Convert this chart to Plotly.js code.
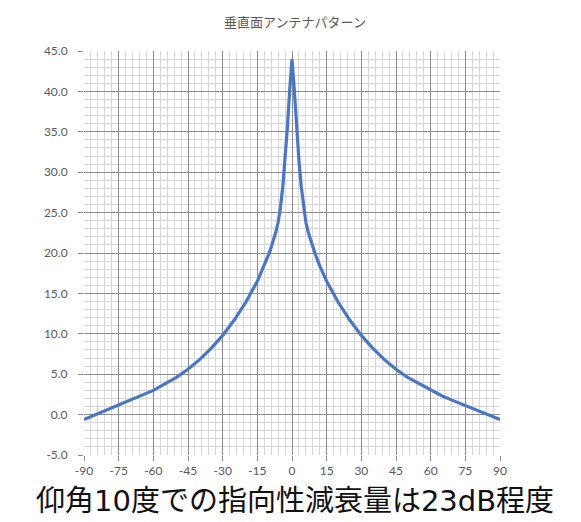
<!DOCTYPE html>
<html>
<head>
<meta charset="utf-8">
<script src="https://cdn.plot.ly/plotly-3.0.1.min.js"></script>
<style>html,body{margin:0;padding:0;background:#fff;}#chart{width:581px;height:522px;}</style>
</head>
<body>
<div id="chart"></div>
<script>
// Elevation angle (deg) and relative gain (dB)
const angles = [-90,-85,-80,-75,-70,-65,-60,-55,-50,-45,-40,-35,-30,-25,-20,-15,-12,-10,-9,-8,-7,-6,-5,-4,-3,-2,-1,0,1,2,3,4,5,6,7,8,9,10,12,15,20,25,30,35,40,45,50,55,60,65,70,75,80,85,90];
const gain = [-0.6,0.0,0.5,1.1,1.7,2.3,3.0,3.8,4.6,5.6,6.8,8.2,9.8,11.7,13.9,16.5,18.4,19.9,20.7,21.6,22.6,23.8,25.6,28.2,31.5,35.5,40.2,44.0,40.2,35.5,31.5,28.2,25.6,23.8,22.6,21.6,20.7,19.9,18.4,16.5,13.9,11.7,9.8,8.2,6.8,5.6,4.6,3.8,3.0,2.3,1.7,1.1,0.5,0.0,-0.6];
const xTicks = [-90,-75,-60,-45,-30,-15,0,15,30,45,60,75,90];
const yTicks = [-5,0,5,10,15,20,25,30,35,40,45];
const chartTitle = '垂直面アンテナパターン';
const caption = '仰角10度での指向性減衰量は23dB程度';

const tickFont = {family: 'Lato, "Open Sans", sans-serif', size: 12, color: '#595959'};
const data = [{
  x: angles, y: gain, type: 'scatter', mode: 'lines',
  line: {color: '#4a76c2', width: 3.2, shape: 'linear'},
  hoverinfo: 'skip'
}];
const layout = {
  width: 581, height: 522,
  margin: {l: 84, r: 81, t: 51, b: 67},
  paper_bgcolor: '#ffffff', plot_bgcolor: '#ffffff',
  showlegend: false,
  title: {text: chartTitle, x: 295/581, xanchor: 'center', xref: 'container', y: 1 - 22/522, yanchor: 'middle', yref: 'container',
          font: {family: '"Noto Sans CJK JP", sans-serif', size: 13, color: '#595959'}},
  xaxis: {
    range: [-90, 90], tickmode: 'array', tickvals: xTicks, ticktext: xTicks.map(String),
    showgrid: true, gridcolor: '#8c8c8c', gridwidth: 1,
    minor: {dtick: 3, showgrid: true, gridcolor: '#d6d6d6', gridwidth: 1},
    zeroline: false, showline: false,
    ticks: 'outside', ticklen: 5, tickcolor: '#8c8c8c',
    tickfont: tickFont, fixedrange: true
  },
  yaxis: {
    range: [-5, 45], tickmode: 'array', tickvals: yTicks, ticktext: yTicks.map(v => v.toFixed(1)),
    showgrid: true, gridcolor: '#8c8c8c', gridwidth: 1,
    minor: {dtick: 1, showgrid: true, gridcolor: '#d6d6d6', gridwidth: 1},
    zeroline: false, showline: false,
    ticks: 'outside', ticklen: 5, tickcolor: '#8c8c8c',
    tickfont: tickFont, ticklabelstandoff: 8, fixedrange: true
  },
  annotations: [{
    text: caption, xref: 'paper', yref: 'paper',
    x: (295 - 84) / 416, y: (455 - 501) / 404, xanchor: 'center', yanchor: 'middle',
    showarrow: false,
    font: {family: '"DejaVu Sans", "Noto Sans CJK JP", sans-serif', size: 29, color: '#111111'}
  }]
};
Plotly.newPlot('chart', data, layout, {displayModeBar: false, staticPlot: true});
</script>
</body>
</html>
